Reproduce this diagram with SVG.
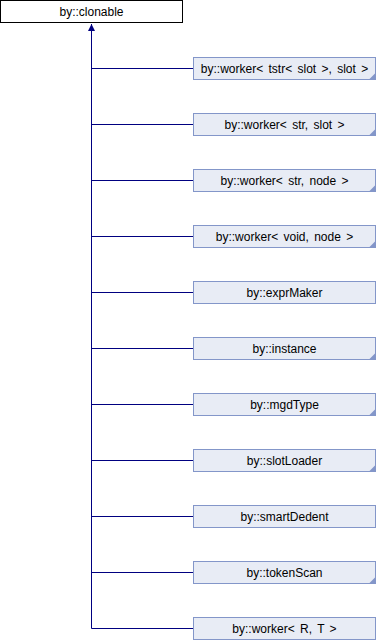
<svg xmlns="http://www.w3.org/2000/svg" width="376" height="640" viewBox="0 0 376 640">
<style>
.bg{fill:#ffffff}
.n rect{fill:#e8ecf5;stroke:#8396c9;stroke-width:1}
.n path{fill:#8396c9}
.r rect{fill:#ffffff;stroke:#000000;stroke-width:1}
text{font-family:"Liberation Sans",Arial,sans-serif;font-size:12px;word-spacing:2px;fill:#000000;text-anchor:middle}
.e line{stroke:#000080;stroke-width:1}
</style>
<rect class="bg" width="376" height="640"/>
<g id="edges" class="e">
<line x1="91.5" y1="628.5" x2="91.5" y2="24"/>
<path d="M91.5,24 L88,31 L95,31 Z" fill="#000080"/>
<line x1="91.5" y1="68.5" x2="193.5" y2="68.5"/>
<line x1="91.5" y1="124.5" x2="193.5" y2="124.5"/>
<line x1="91.5" y1="180.5" x2="193.5" y2="180.5"/>
<line x1="91.5" y1="236.5" x2="193.5" y2="236.5"/>
<line x1="91.5" y1="292.5" x2="193.5" y2="292.5"/>
<line x1="91.5" y1="348.5" x2="193.5" y2="348.5"/>
<line x1="91.5" y1="404.5" x2="193.5" y2="404.5"/>
<line x1="91.5" y1="460.5" x2="193.5" y2="460.5"/>
<line x1="91.5" y1="516.5" x2="193.5" y2="516.5"/>
<line x1="91.5" y1="572.5" x2="193.5" y2="572.5"/>
<line x1="91.5" y1="628.5" x2="193.5" y2="628.5"/>
</g>
<g id="clonable" class="r"><rect x="0.5" y="0.5" width="182" height="22"/><text x="91.5" y="16">by::clonable</text></g>
<g id="n1" class="n" transform="translate(0,0)"><rect x="193.5" y="57.5" width="182" height="22"/><path d="M375.5,73 L375.5,79.5 L369,79.5 Z"/><text x="284.5" y="73">by::worker&lt; tstr&lt; slot &gt;, slot &gt;</text></g>
<g id="n2" class="n" transform="translate(0,56)"><rect x="193.5" y="57.5" width="182" height="22"/><path d="M375.5,73 L375.5,79.5 L369,79.5 Z"/><text x="284.5" y="73">by::worker&lt; str, slot &gt;</text></g>
<g id="n3" class="n" transform="translate(0,112)"><rect x="193.5" y="57.5" width="182" height="22"/><path d="M375.5,73 L375.5,79.5 L369,79.5 Z"/><text x="284.5" y="73">by::worker&lt; str, node &gt;</text></g>
<g id="n4" class="n" transform="translate(0,168)"><rect x="193.5" y="57.5" width="182" height="22"/><path d="M375.5,73 L375.5,79.5 L369,79.5 Z"/><text x="284.5" y="73">by::worker&lt; void, node &gt;</text></g>
<g id="n5" class="n" transform="translate(0,224)"><rect x="193.5" y="57.5" width="182" height="22"/><text x="284.5" y="73">by::exprMaker</text></g>
<g id="n6" class="n" transform="translate(0,280)"><rect x="193.5" y="57.5" width="182" height="22"/><path d="M375.5,73 L375.5,79.5 L369,79.5 Z"/><text x="284.5" y="73">by::instance</text></g>
<g id="n7" class="n" transform="translate(0,336)"><rect x="193.5" y="57.5" width="182" height="22"/><path d="M375.5,73 L375.5,79.5 L369,79.5 Z"/><text x="284.5" y="73">by::mgdType</text></g>
<g id="n8" class="n" transform="translate(0,392)"><rect x="193.5" y="57.5" width="182" height="22"/><path d="M375.5,73 L375.5,79.5 L369,79.5 Z"/><text x="284.5" y="73">by::slotLoader</text></g>
<g id="n9" class="n" transform="translate(0,448)"><rect x="193.5" y="57.5" width="182" height="22"/><text x="284.5" y="73">by::smartDedent</text></g>
<g id="n10" class="n" transform="translate(0,504)"><rect x="193.5" y="57.5" width="182" height="22"/><path d="M375.5,73 L375.5,79.5 L369,79.5 Z"/><text x="284.5" y="73">by::tokenScan</text></g>
<g id="n11" class="n" transform="translate(0,560)"><rect x="193.5" y="57.5" width="182" height="22"/><text x="284.5" y="73">by::worker&lt; R, T &gt;</text></g>
</svg>
